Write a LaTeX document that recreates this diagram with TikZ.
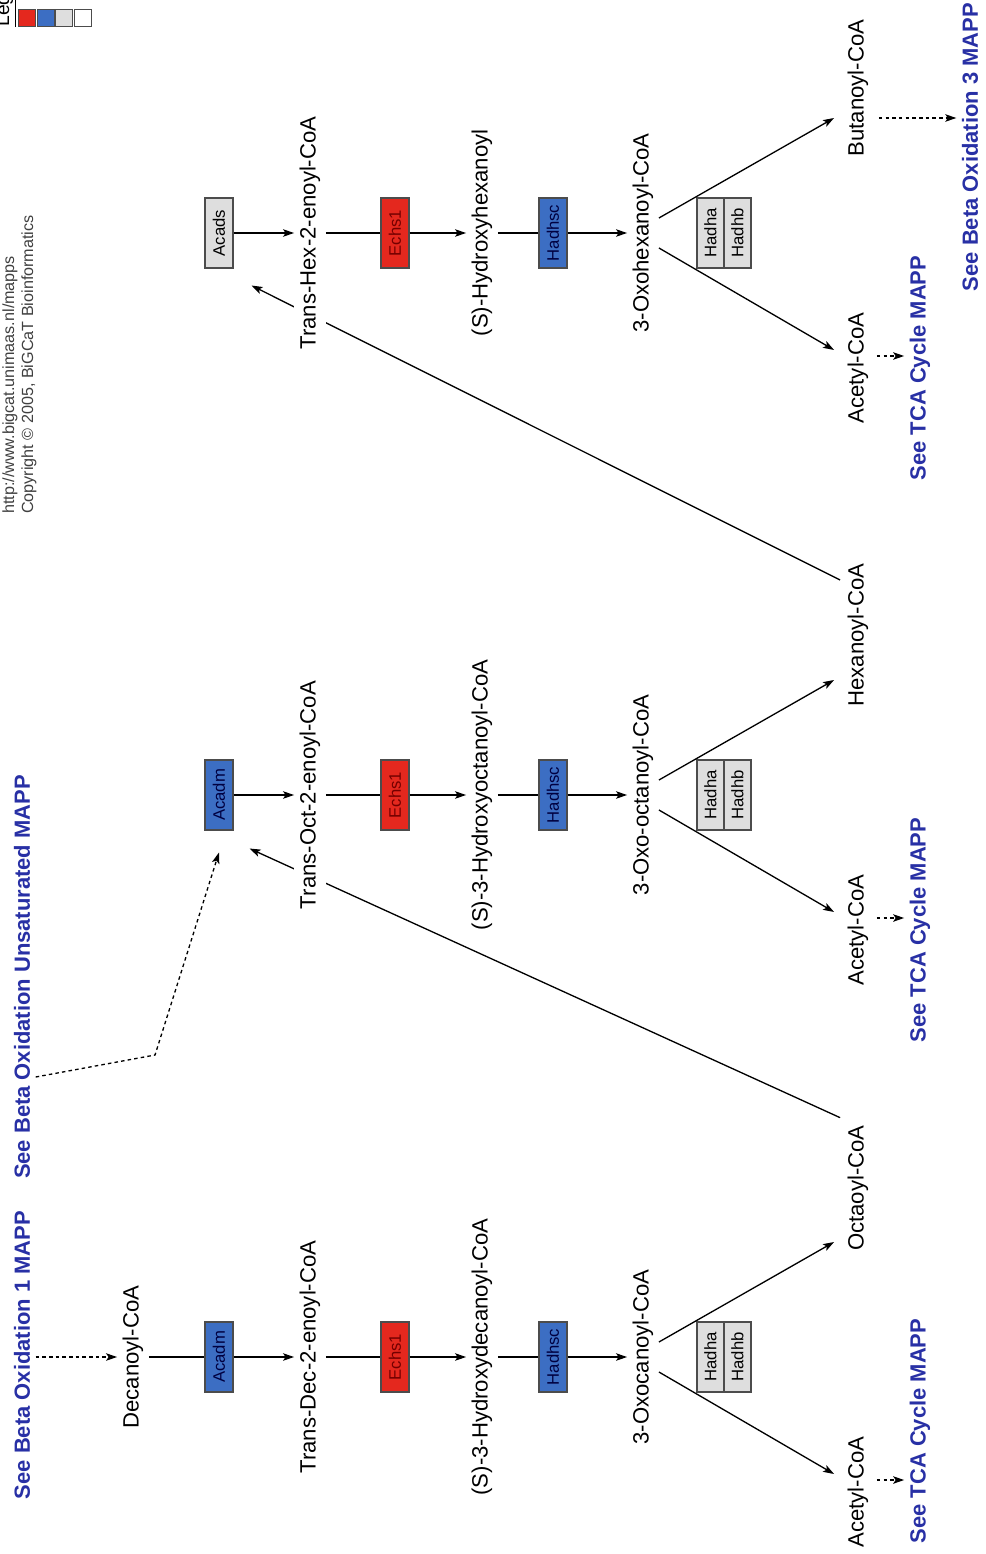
\documentclass[tikz,border=0pt]{standalone}
\usepackage{fontspec}
\setmainfont{Liberation Sans}
\usetikzlibrary{arrows.meta,calc,backgrounds}

\definecolor{mappblue}{RGB}{40,48,165}
\definecolor{enzred}{RGB}{228,40,30}
\definecolor{enzblue}{RGB}{60,110,195}
\definecolor{enzgray}{RGB}{222,222,222}

\tikzset{
  met/.style={rotate=90,inner sep=3pt,fill=white,font=\fontsize{12.6}{14}\selectfont},
  mapp/.style={rotate=90,inner sep=3pt,text=mappblue,font=\fontsize{12.5}{14}\selectfont\bfseries},
  enz/.style={rotate=90,draw=black!70,line width=0.6pt,minimum width=1.4cm,minimum height=0.56cm,inner sep=0pt,font=\fontsize{9.5}{11}\selectfont},
  red enz/.style={enz,fill=enzred,text=red!45!black},
  blue enz/.style={enz,fill=enzblue,text=blue!25!black},
  gray enz/.style={enz,fill=enzgray},
  link/.style={line width=0.75pt},
  arr/.style={link,-{Stealth[length=2.2mm,width=1.5mm,inset=0.5mm]}},
  darr/.style={arr,dash pattern=on 2pt off 1.8pt},
}

\begin{document}
\begin{tikzpicture}[x=0.02cm,y=-0.02cm]
  \clip (0,0) rectangle (985,1554);

  % legend and header
  \node[rotate=90,anchor=south west,inner sep=0pt,font=\fontsize{11}{12}\selectfont] (leg) at (17,27) {\underline{Legend:}};
  \foreach \c [count=\i] in {enzred,enzblue,enzgray,white}
    \node[draw=black!70,fill=\c,minimum size=0.34cm,inner sep=0pt] (key\i) at ({8.5+18.5*\i},18) {};
  \node[rotate=90,anchor=west,text=black!75,font=\fontsize{9.2}{10}\selectfont] (url) at (10,520) {http://www.bigcat.unimaas.nl/mapps};
  \node[rotate=90,anchor=west,text=black!75,font=\fontsize{9.2}{10}\selectfont] (copy) at (29,520) {Copyright \textcopyright\ 2005, BiGCaT Bioinformatics};

  % links to other maps
  \node[mapp] (bo1) at (22,1355) {See Beta Oxidation 1 MAPP};
  \node[mapp] (bou) at (22,977) {See Beta Oxidation Unsaturated MAPP};
  \node[mapp] (bo3) at (970,147) {See Beta Oxidation 3 MAPP};
  \node[met] (deca) at (133,1357) {Decanoyl-CoA};

  % one turn of the spiral per row
  \foreach \g/\ay/\ena/\hyd/\oxo/\pname/\py/\ty in {
      1/1357/Trans-Dec-2-enoyl-CoA/(S)-3-Hydroxydecanoyl-CoA/3-Oxocanoyl-CoA/Octaoyl-CoA/1188/1431,
      2/795/Trans-Oct-2-enoyl-CoA/(S)-3-Hydroxyoctanoyl-CoA/3-Oxo-octanoyl-CoA/Hexanoyl-CoA/635/930,
      3/233/Trans-Hex-2-enoyl-CoA/(S)-Hydroxyhexanoyl/3-Oxohexanoyl-CoA/Butanoyl-CoA/88/368} {
    \node[met] (enoyl\g) at (310,\ay) {\ena};
    \node[red enz] (echs\g) at (395,\ay) {Echs1};
    \node[met] (hydroxy\g) at (482,\ay) {\hyd};
    \node[blue enz] (hadhsc\g) at (553,\ay) {Hadhsc};
    \node[met] (oxo\g) at (643,\ay) {\oxo};
    \node[gray enz,minimum height=0.54cm] (hadha\g) at (710.5,\ay) {Hadha};
    \node[gray enz,minimum height=0.54cm] (hadhb\g) at (737.5,\ay) {Hadhb};
    \node[met] (prod\g) at (858,\py) {\pname};
    \node[met] (acetyl\g) at (858,\ay+135) {Acetyl-CoA};
    \node[mapp] (tca\g) at (920,\ty) {See TCA Cycle MAPP};
    \draw[link] (enoyl\g) -- (echs\g);
    \draw[arr] (echs\g) -- (hydroxy\g);
    \draw[link] (hydroxy\g) -- (hadhsc\g);
    \draw[arr] (hadhsc\g) -- (oxo\g);
    \draw[arr] ($(oxo\g.south)+(0,-15)$) -- ($(prod\g.north)+(-8,\ay-115-\py)$);
    \draw[arr] ($(oxo\g.south)+(0,15)$) -- ($(acetyl\g.north)+(-8,-18)$);
    \coordinate (ds\g) at ($(acetyl\g.south)+(3,-12)$);
    \draw[darr] (ds\g) -- (ds\g -| tca\g.north);
  }

  \node[blue enz] (acadm1) at (219,1357) {Acadm};
  \node[blue enz] (acadm2) at (219,795) {Acadm};
  \node[gray enz] (acads3) at (219,233) {Acads};
  \draw[link] (deca) -- (acadm1);
  \draw[arr] (acadm1) -- (enoyl1);
  \draw[arr] (acadm2) -- (enoyl2);
  \draw[arr] (acads3) -- (enoyl3);

  \draw[darr] (bo1.south |- deca.north) -- (deca.north);
  \coordinate (bs) at ($(prod3.south)+(5,30)$);
  \draw[darr] (bs) -- (bs -| bo3.north);
  \coordinate (bend) at (155,1055);
  \draw[darr] (bou.south |- 0,1077) -- (bend) -- ($(acadm2.west)+(0,22)$);

  % back to the next turn, under the labels
  \begin{pgfonlayer}{background}
    \draw[arr] ($(prod1.north east)+(-2,-2)$) -- ($(acadm2.south west)+(16,18)$);
    \draw[arr] ($(prod2.north east)+(-2,22)$) -- ($(acads3.south west)+(18,17)$);
  \end{pgfonlayer}
\end{tikzpicture}
\end{document}
